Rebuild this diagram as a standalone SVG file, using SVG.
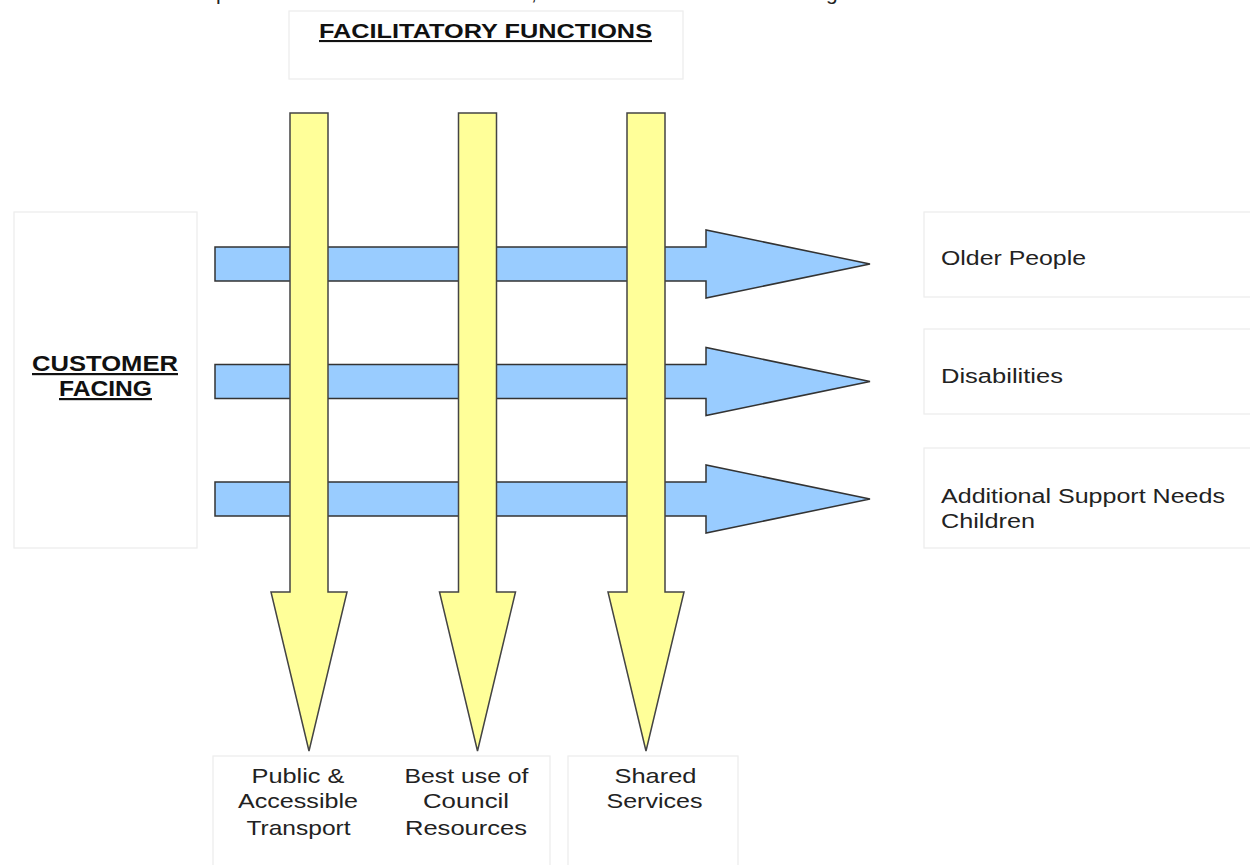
<svg xmlns="http://www.w3.org/2000/svg" width="1250" height="865" viewBox="0 0 1250 865">
<style>
.box{fill:#ffffff;stroke:#ececec;stroke-width:1.2}
.blue{fill:#99ccff;stroke:#333333;stroke-width:1.5;stroke-linejoin:miter}
.yellow{fill:#ffff99;stroke:#444444;stroke-width:1.5;stroke-linejoin:miter}
.title{font-family:"Liberation Sans",Arial,sans-serif;font-weight:bold;fill:#111111;text-decoration:underline}
.lbl{font-family:"Liberation Sans",Arial,sans-serif;fill:#222222}
</style>
<rect width="1250" height="865" fill="#ffffff"/>
<g id="cut-text-fragments">
<text class="lbl" x="216" y="0" font-size="21">p</text>
<text class="lbl" x="531" y="0" font-size="21">,</text>
<text class="lbl" x="826" y="0" font-size="21">g</text>
</g>
<g id="facilitatory-functions">
<rect class="box" x="289" y="11" width="394" height="68"/>
<text class="title" x="319" y="38" font-size="21" textLength="333" lengthAdjust="spacingAndGlyphs">FACILITATORY FUNCTIONS</text>
</g>
<g id="customer-facing">
<rect class="box" x="14" y="212" width="183" height="336"/>
<text class="title" x="105" y="371" font-size="22" text-anchor="middle" textLength="146" lengthAdjust="spacingAndGlyphs">CUSTOMER</text>
<text class="title" x="105.5" y="396" font-size="22" text-anchor="middle" textLength="93" lengthAdjust="spacingAndGlyphs">FACING</text>
</g>
<g id="older-people">
<rect class="box" x="924" y="212" width="340" height="85"/>
<text class="lbl" x="941" y="265" font-size="20" textLength="145" lengthAdjust="spacingAndGlyphs">Older People</text>
</g>
<g id="disabilities">
<rect class="box" x="924" y="329" width="340" height="85"/>
<text class="lbl" x="941" y="383" font-size="20" textLength="122" lengthAdjust="spacingAndGlyphs">Disabilities</text>
</g>
<g id="asn-children">
<rect class="box" x="924" y="448" width="340" height="100"/>
<text class="lbl" x="941" y="503" font-size="20" textLength="284" lengthAdjust="spacingAndGlyphs">Additional Support Needs</text>
<text class="lbl" x="941" y="528" font-size="20" textLength="94" lengthAdjust="spacingAndGlyphs">Children</text>
</g>
<g id="transport-resources">
<rect class="box" x="213" y="756" width="337" height="120"/>
<text class="lbl" x="298" y="783" font-size="21" text-anchor="middle" textLength="93" lengthAdjust="spacingAndGlyphs">Public &amp;</text>
<text class="lbl" x="298" y="808" font-size="21" text-anchor="middle" textLength="120" lengthAdjust="spacingAndGlyphs">Accessible</text>
<text class="lbl" x="298.5" y="835" font-size="21" text-anchor="middle" textLength="104" lengthAdjust="spacingAndGlyphs">Transport</text>
<text class="lbl" x="466.5" y="783" font-size="21" text-anchor="middle" textLength="124" lengthAdjust="spacingAndGlyphs">Best use of</text>
<text class="lbl" x="466" y="808" font-size="21" text-anchor="middle" textLength="86" lengthAdjust="spacingAndGlyphs">Council</text>
<text class="lbl" x="466" y="835" font-size="21" text-anchor="middle" textLength="122" lengthAdjust="spacingAndGlyphs">Resources</text>
</g>
<g id="shared-services">
<rect class="box" x="568" y="756" width="170" height="120"/>
<text class="lbl" x="655.5" y="783" font-size="21" text-anchor="middle" textLength="82" lengthAdjust="spacingAndGlyphs">Shared</text>
<text class="lbl" x="654.5" y="808" font-size="21" text-anchor="middle" textLength="96" lengthAdjust="spacingAndGlyphs">Services</text>
</g>
<g id="connectors">
<polygon class="blue" points="215,247 706,247 706,230 870,264 706,298 706,281 215,281"/>
<polygon class="blue" points="215,364.5 706,364.5 706,347.5 870,381.5 706,415.5 706,398.5 215,398.5"/>
<polygon class="blue" points="215,482 706,482 706,465 870,499 706,533 706,516 215,516"/>
<polygon class="yellow" points="290,113 328,113 328,592 347,592 309,751 271,592 290,592"/>
<polygon class="yellow" points="458.5,113 496.5,113 496.5,592 515.5,592 477.5,751 439.5,592 458.5,592"/>
<polygon class="yellow" points="627,113 665,113 665,592 684,592 646,751 608,592 627,592"/>
</g>
</svg>
